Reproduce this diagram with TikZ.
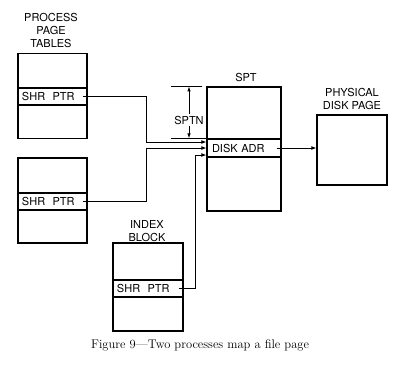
\documentclass[tikz,border=0pt]{standalone}
\usepackage{fontspec}
\newfontfamily\lettering{TeX Gyre Heros}
\usetikzlibrary{calc,positioning,arrows.meta}
\tikzset{
  tbl/.style={rectangle,draw=black,line width=1.3pt,inner sep=0pt},
  slot/.style={rectangle,draw=black,line width=1.3pt,inner xsep=4pt,inner ysep=0pt,
    minimum height=17pt,font=\lettering\fontsize{11}{12}\selectfont,align=left},
  head/.style={font=\lettering\fontsize{11}{13}\selectfont,align=center,inner sep=0pt},
  ptr/.style={-{Latex[length=5pt,width=4pt]},line width=0.9pt},
  dim/.style={line width=0.8pt},
  dimarrow/.style={-{Latex[length=5pt,width=3.5pt]},line width=0.8pt},
}
\begin{document}
\begin{tikzpicture}[x=1pt,y=-1pt]
  \useasboundingbox (0,0) rectangle (400,370);
  % process page tables
  \node[head] (ppt) at (51,30) {PROCESS\\PAGE\\TABLES};
  \node[tbl,minimum width=69pt,minimum height=85pt] (pt1) at (52.5,96) {};
  \node[slot,text width=61pt] (pt1s) at (52.5,96.5) {SHR~~PTR};
  \node[tbl,minimum width=69pt,minimum height=85pt] (pt2) at (52.5,200.5) {};
  \node[slot,text width=61pt] (pt2s) at (52.5,201.5) {SHR~~PTR};
  % index block
  \node[head] (ixh) at (147,231) {INDEX\\BLOCK};
  \node[tbl,minimum width=70pt,minimum height=88pt] (ix) at (148,287) {};
  \node[slot,text width=62pt] (ixs) at (148,288.5) {SHR~~PTR};
  % shared page table
  \node[head] (spth) at (246,77) {SPT};
  \node[tbl,minimum width=74pt,minimum height=124pt] (spt) at (244,149) {};
  \node[slot,text width=64pt,minimum height=18pt,inner xsep=5pt] (sptd) at (244,148) {DISK~ADR};
  % physical page
  \node[head] (physh) at (352,99) {PHYSICAL\\DISK PAGE};
  \node[tbl,minimum width=70pt,minimum height=70pt] (phys) at (352,150) {};
  % SPTN offset
  \draw[dim] ([xshift=-4pt]spt.north west) -- ++(-31,0);
  \draw[dim] (sptd.north west) -- ++(-35,0);
  \node[head] (sptn) at (189,120) {SPTN};
  \draw[dimarrow] ([yshift=2pt]sptn.north) -- (sptn.north |- spt.north);
  \draw[dimarrow] ([yshift=-2pt]sptn.south) -- (sptn.south |- sptd.north);
  % pointers
  \draw[ptr] ([xshift=-5pt]pt1s.east) -- ++(64,0) |- ([yshift=6pt]sptd.west);
  \draw[ptr] ([xshift=-5pt]pt2s.east) -- ++(64,0) |- (sptd.west);
  \draw[ptr] ([xshift=-5pt]ixs.east) -- ++(17,0) |- ([yshift=-7pt]sptd.west);
  \draw[ptr] ([xshift=-5pt]sptd.east) -- (sptd.east -| phys.west);
  % caption
  \node[font=\fontsize{12.5}{14}\selectfont] (cap) at (200,345) {Figure 9---Two processes map a file page};
\end{tikzpicture}
\end{document}
